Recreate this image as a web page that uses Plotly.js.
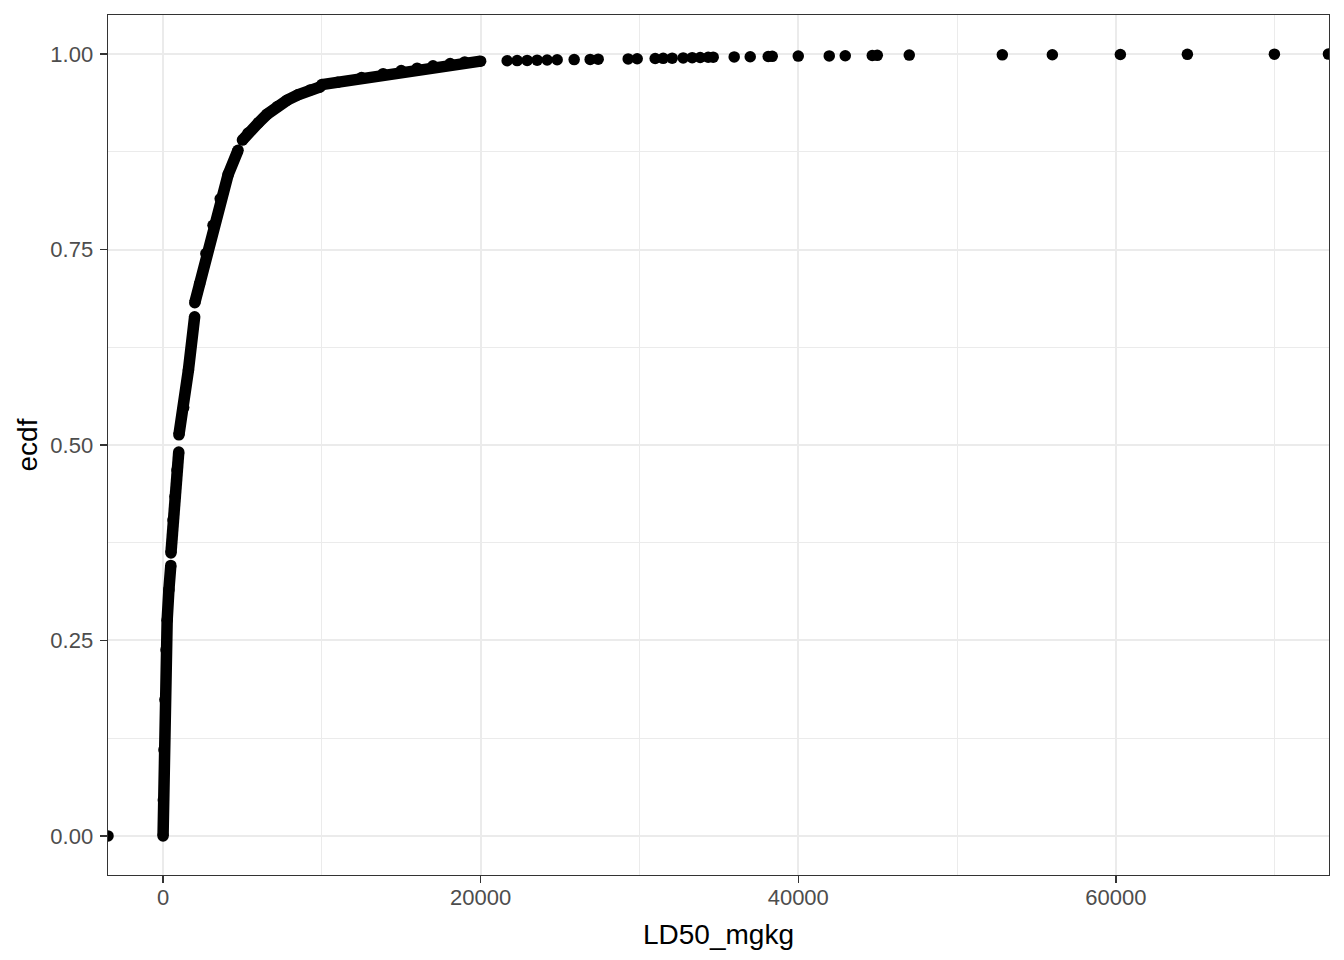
<!DOCTYPE html>
<html>
<head>
<meta charset="utf-8">
<script src="https://cdn.plot.ly/plotly-3.0.1.min.js"></script>
<style>html,body{margin:0;padding:0;background:#fff;}#chart{width:1344px;height:960px;}</style>
</head>
<body>
<div id="chart"></div>
<script>
// Dense part of the ECDF (LD50 in mg/kg vs ecdf); null marks a jump at a repeated value
const denseLD50 = [2, 20, 60, 120, 190, 260, 370, 490, null,
  500, 630, 756, 880, 990, null,
  1000, 1300, 1600, 1990, null,
  2000, 2300, 2700, 3150, 3600, 4100, 4724, null,
  5000, 5355, 6000, 6552, 7200, 7812, 8500, 9261, 9900, null,
  10000, 11000, 12500, 13860, 15000, 16002, 17000, 18081, 19000, 20000];
const denseEcdf = [0.000, 0.046, 0.110, 0.174, 0.238, 0.276, 0.315, 0.346, null,
  0.362, 0.404, 0.434, 0.468, 0.491, null,
  0.513, 0.548, 0.596, 0.664, null,
  0.682, 0.706, 0.745, 0.781, 0.815, 0.846, 0.877, null,
  0.890, 0.899, 0.912, 0.923, 0.933, 0.941, 0.948, 0.954, 0.958, null,
  0.961, 0.964, 0.970, 0.975, 0.979, 0.982, 0.985, 0.988, 0.990, 0.991];
// Sparse points (low outlier and upper tail)
const tailLD50 = [-3465, 21669, 22299, 22929, 23558, 24188, 24818, 25889, 26897, 27401,
  29290, 29857, 30991, 31495, 32062, 32755, 33322, 33825, 34329, 34644,
  35967, 36975, 38109, 38361, 39999, 41951, 42959, 44660, 44975, 46991,
  52849, 55999, 60282, 64502, 69982, 73383];
const tailEcdf = [0.0, 0.9915, 0.9917, 0.9919, 0.9922, 0.9924, 0.9927, 0.9930, 0.9932, 0.9935,
  0.9938, 0.9940, 0.9943, 0.9946, 0.9948, 0.9951, 0.9954, 0.9956, 0.9959, 0.9961,
  0.9964, 0.9966, 0.9969, 0.9971, 0.9974, 0.9977, 0.9979, 0.9982, 0.9984, 0.9987,
  0.9990, 0.9992, 0.9995, 0.9997, 0.9999, 1.0];
const xTicks = [0, 20000, 40000, 60000];
const xTickText = ['0', '20000', '40000', '60000'];
const yTicks = [0, 0.25, 0.5, 0.75, 1.0];
const yTickText = ['0.00', '0.25', '0.50', '0.75', '1.00'];

const dotSize = 11.5;
const traces = [
  {x: denseLD50, y: denseEcdf, type: 'scatter', mode: 'lines+markers', connectgaps: false,
   line: {color: '#000000', width: dotSize}, marker: {color: '#000000', size: dotSize},
   hoverinfo: 'skip', showlegend: false},
  {x: tailLD50, y: tailEcdf, type: 'scatter', mode: 'markers',
   marker: {color: '#000000', size: dotSize}, cliponaxis: true, showlegend: false}
];
const fontFam = 'Liberation Sans, Arial, Helvetica, sans-serif';
const layout = {
  width: 1344, height: 960,
  margin: {l: 108, r: 15, t: 15, b: 85},
  paper_bgcolor: '#ffffff', plot_bgcolor: '#ffffff',
  showlegend: false,
  font: {family: fontFam, color: '#000000'},
  xaxis: {
    range: [-3465, 73420], autorange: false,
    tickmode: 'array', tickvals: xTicks, ticktext: xTickText,
    ticks: 'outside', ticklen: 7, tickwidth: 1.4, tickcolor: '#333333',
    tickfont: {family: fontFam, size: 22, color: '#4D4D4D'},
    ticklabelstandoff: -5,
    showgrid: true, gridcolor: '#EBEBEB', gridwidth: 2,
    minor: {tickmode: 'array', tickvals: [10000, 30000, 50000, 70000], showgrid: true, gridcolor: '#EBEBEB', gridwidth: 1, ticks: ''},
    zeroline: false, showline: true, mirror: true, linecolor: '#333333', linewidth: 1.4,
    title: {text: 'LD50_mgkg', font: {family: fontFam, size: 28, color: '#000000'}, standoff: 15},
    automargin: false
  },
  yaxis: {
    range: [-0.05, 1.05], autorange: false,
    tickmode: 'array', tickvals: yTicks, ticktext: yTickText,
    ticks: 'outside', ticklen: 7, tickwidth: 1.4, tickcolor: '#333333',
    tickfont: {family: fontFam, size: 22, color: '#4D4D4D'},
    ticklabelstandoff: 2,
    showgrid: true, gridcolor: '#EBEBEB', gridwidth: 2,
    minor: {tickmode: 'array', tickvals: [0.125, 0.375, 0.625, 0.875], showgrid: true, gridcolor: '#EBEBEB', gridwidth: 1, ticks: ''},
    zeroline: false, showline: true, mirror: true, linecolor: '#333333', linewidth: 1.4,
    title: {text: 'ecdf', font: {family: fontFam, size: 28, color: '#000000'}, standoff: 4},
    automargin: false
  }
};
Plotly.newPlot('chart', traces, layout, {displayModeBar: false, staticPlot: true});
</script>
</body>
</html>
